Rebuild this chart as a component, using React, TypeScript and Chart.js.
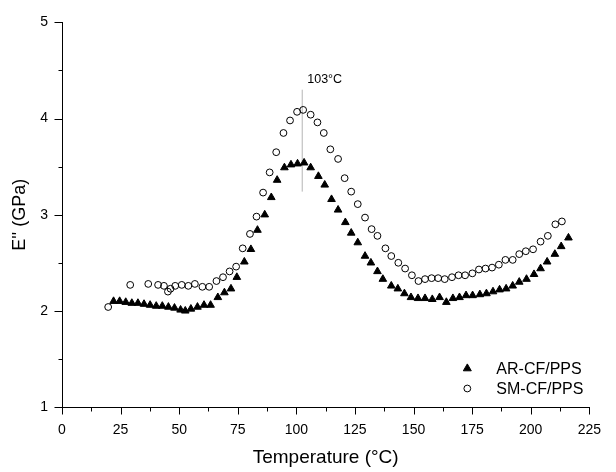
import React, { useEffect, useRef } from 'react';
import { Chart, registerables } from 'chart.js';

Chart.register(...registerables);

// AR-CF/PPS (filled triangles)
const AR_TEMP = [22.0, 24.6, 27.2, 29.8, 32.4, 35.0, 37.6, 40.2, 42.8, 45.4, 48.0, 50.6, 52.6,
  55.0, 57.8, 60.6, 63.4, 66.5, 69.3, 72.1, 74.6, 77.8, 80.6, 83.4, 86.5, 89.3,
  91.8, 94.9, 97.7, 100.5, 103.3, 106.1, 109.4, 112.1, 115.0,
  117.8, 120.9, 123.4, 126.2, 129.3, 131.8, 134.6, 136.9,
  140.5, 143.3, 146.1, 148.9, 151.9, 154.9, 158.0, 161.1, 164.0, 166.8, 169.6, 172.4,
  175.2, 178.3, 181.1, 183.9, 186.7, 189.5, 192.3, 195.1, 198.2, 201.4, 204.2, 207.0,
  210.3, 213.0, 216.1];
const AR_EPP = [2.10, 2.10, 2.09, 2.08, 2.08, 2.07, 2.06, 2.05, 2.05, 2.04, 2.03, 2.01, 2.00,
  2.02, 2.04, 2.06, 2.06, 2.14, 2.19, 2.23, 2.35, 2.51, 2.64, 2.84, 3.00, 3.18,
  3.36, 3.49, 3.52, 3.53, 3.54, 3.49, 3.40, 3.31, 3.16,
  3.05, 2.92, 2.81, 2.71, 2.57, 2.50, 2.41, 2.33,
  2.26, 2.23, 2.18, 2.14, 2.13, 2.13, 2.12, 2.14, 2.09, 2.13, 2.14, 2.16,
  2.16, 2.17, 2.18, 2.20, 2.22, 2.23, 2.26, 2.30, 2.33, 2.38, 2.44, 2.51,
  2.59, 2.67, 2.76];

// SM-CF/PPS (open circles)
const SM_TEMP = [19.7, 29.1, 36.8, 41.0, 43.5, 45.2, 46.3, 48.3, 51.1, 53.9, 56.7,
  59.9, 62.8, 65.9, 68.7, 71.5, 74.3, 77.1, 80.2, 83.0,
  85.8, 88.6, 91.4, 94.5, 97.3, 100.3, 102.9, 106.1, 109.0, 111.7, 114.5, 117.8, 120.6,
  123.4, 126.2, 129.3, 132.1, 134.6,
  138.0, 140.5, 143.5, 146.4, 149.3, 152.1, 154.9, 157.7, 160.5, 163.3, 166.4, 169.2,
  172.0, 175.1, 177.9, 180.7, 183.5, 186.4, 189.2, 192.3, 195.1, 197.9, 201.0, 204.2,
  207.3, 210.5, 213.3];
const SM_EPP = [2.04, 2.27, 2.28, 2.27, 2.26, 2.20, 2.23, 2.26, 2.27, 2.26, 2.28,
  2.25, 2.25, 2.31, 2.35, 2.41, 2.46, 2.65, 2.80, 2.98,
  3.23, 3.44, 3.65, 3.85, 3.98, 4.07, 4.09, 4.04, 3.96, 3.85, 3.68, 3.58, 3.38,
  3.24, 3.11, 2.97, 2.85, 2.78,
  2.65, 2.57, 2.50, 2.44, 2.37, 2.31, 2.33, 2.34, 2.34, 2.33, 2.35, 2.37,
  2.37, 2.39, 2.43, 2.44, 2.45, 2.48, 2.53, 2.53, 2.59, 2.62, 2.64, 2.72,
  2.78, 2.90, 2.93];

const SERIES_NAMES = ['AR-CF/PPS', 'SM-CF/PPS'];

// Peak marker (vertical reference line)
const PEAK_TEMP = 102.5;
const PEAK_LINE_RANGE = [3.24, 4.30];
const PEAK_LABEL = '103\u00B0C';

const X_MIN = 0, X_MAX = 225, X_MAJOR = 25, X_MINOR = 12.5;
const Y_MIN = 1, Y_MAX = 5, Y_MAJOR = 1, Y_MINOR = 0.5;

const X_TITLE = 'Temperature (\u00B0C)';
const Y_TITLE = "E'' (GPa)";

const FONT = 'Arial, "Liberation Sans", Helvetica, sans-serif';

const axisTicksPlugin = {
  id: 'axisTicks',
  afterDraw(chart: any) {
    const { ctx, chartArea, scales } = chart;
    const x = scales.x, y = scales.y;
    ctx.save();
    ctx.strokeStyle = '#000';
    ctx.lineWidth = 1;
    const xb = Math.round(chartArea.bottom) + 0.5;
    for (let t = X_MIN; t <= X_MAX + 1e-6; t += X_MINOR) {
      const major = Math.abs(t / X_MAJOR - Math.round(t / X_MAJOR)) < 1e-6;
      const px = Math.round(x.getPixelForValue(t)) + 0.5;
      ctx.beginPath();
      ctx.moveTo(px, xb);
      ctx.lineTo(px, xb + (major ? 7 : 4));
      ctx.stroke();
    }
    const yl = Math.round(chartArea.left) + 0.5;
    for (let v = Y_MIN; v <= Y_MAX + 1e-6; v += Y_MINOR) {
      const major = Math.abs(v / Y_MAJOR - Math.round(v / Y_MAJOR)) < 1e-6;
      const py = Math.round(y.getPixelForValue(v)) + 0.5;
      ctx.beginPath();
      ctx.moveTo(yl, py);
      ctx.lineTo(yl - (major ? 8 : 4), py);
      ctx.stroke();
    }
    ctx.restore();
  },
};

const annotationPlugin = {
  id: 'peakLabel',
  afterDatasetsDraw(chart: any) {
    const { ctx, scales } = chart;
    const px = scales.x.getPixelForValue(PEAK_TEMP);
    const py = scales.y.getPixelForValue(PEAK_LINE_RANGE[1]);
    ctx.save();
    ctx.fillStyle = '#000';
    ctx.font = `12.5px ${FONT}`;
    ctx.textAlign = 'left';
    ctx.textBaseline = 'alphabetic';
    ctx.fillText(PEAK_LABEL, px + 5, py - 6.5);
    ctx.restore();
  },
};

const legendPlugin = {
  id: 'insideLegend',
  afterDraw(chart: any) {
    const { ctx, chartArea } = chart;
    const mx = chartArea.right - 122;
    const tx = chartArea.right - 93;
    const rows = [chartArea.bottom - 38.5, chartArea.bottom - 18.5];
    ctx.save();
    ctx.font = `16px ${FONT}`;
    ctx.textAlign = 'left';
    ctx.textBaseline = 'middle';
    ctx.fillStyle = '#000';
    ctx.strokeStyle = '#000';
    ctx.lineWidth = 1;
    // triangle marker
    const r = 4.6;
    const cy0 = rows[0];
    ctx.beginPath();
    for (let k = 0; k < 3; k++) {
      const a = (k * 2 * Math.PI) / 3;
      const vx = mx + Math.sin(a) * r;
      const vy = cy0 - Math.cos(a) * r;
      if (k === 0) ctx.moveTo(vx, vy); else ctx.lineTo(vx, vy);
    }
    ctx.closePath();
    ctx.fill();
    ctx.stroke();
    ctx.fillText(SERIES_NAMES[0], tx, rows[0] + 1);
    // circle marker
    ctx.beginPath();
    ctx.arc(mx, rows[1], 3.4, 0, Math.PI * 2);
    ctx.stroke();
    ctx.fillText(SERIES_NAMES[1], tx, rows[1] + 1);
    ctx.restore();
  },
};

export default function App() {
  const ref = useRef<HTMLCanvasElement>(null);
  useEffect(() => {
    const canvas = ref.current;
    if (!canvas) return;
    const chart = new Chart(canvas, {
      type: 'scatter',
      data: {
        datasets: [
          {
            label: SERIES_NAMES[0],
            data: AR_TEMP.map((t, i) => ({ x: t, y: AR_EPP[i] })),
            pointStyle: 'triangle',
            pointRadius: 4.4,
            backgroundColor: '#000',
            borderColor: '#000',
            borderWidth: 1,
          },
          {
            label: SERIES_NAMES[1],
            data: SM_TEMP.map((t, i) => ({ x: t, y: SM_EPP[i] })),
            pointStyle: 'circle',
            pointRadius: 3.4,
            backgroundColor: 'rgba(0,0,0,0)',
            borderColor: '#000',
            borderWidth: 1,
          },
          {
            label: 'peak',
            data: PEAK_LINE_RANGE.map((v) => ({ x: PEAK_TEMP, y: v })),
            showLine: true,
            pointRadius: 0,
            borderColor: '#b4b4b4',
            borderWidth: 1,
          },
        ],
      } as any,
      options: {
        responsive: false,
        animation: false,
        events: [],
        layout: { padding: { top: 15, right: 18, bottom: 0, left: 0 } },
        plugins: { legend: { display: false }, tooltip: { enabled: false } },
        scales: {
          x: {
            type: 'linear',
            min: X_MIN,
            max: X_MAX,
            afterFit: (s: any) => { s.height = 65; },
            ticks: {
              stepSize: X_MAJOR,
              padding: 15,
              color: '#000',
              maxRotation: 0,
              autoSkip: false,
              font: { size: 14, family: FONT },
            },
            grid: { display: false, drawTicks: false },
            border: { display: true, color: '#000', width: 1 },
            title: {
              display: true,
              text: X_TITLE,
              color: '#000',
              font: { size: 19, family: FONT },
              padding: { top: 0, bottom: 3 },
            },
          },
          y: {
            type: 'linear',
            min: Y_MIN,
            max: Y_MAX,
            afterFit: (s: any) => { s.width = 62; },
            ticks: {
              stepSize: Y_MAJOR,
              padding: 14,
              color: '#000',
              font: { size: 14, family: FONT },
            },
            grid: { display: false, drawTicks: false },
            border: { display: true, color: '#000', width: 1 },
            title: {
              display: true,
              text: Y_TITLE,
              color: '#000',
              font: { size: 18, family: FONT },
              padding: { top: 9, bottom: 0 },
            },
          },
        },
      } as any,
      plugins: [axisTicksPlugin, annotationPlugin, legendPlugin],
    });
    return () => chart.destroy();
  }, []);
  return (
    <div style={{ position: 'fixed', left: 0, top: 0, width: 616, height: 472, background: '#fff' }}>
      <canvas ref={ref} width={616} height={472} />
    </div>
  );
}
